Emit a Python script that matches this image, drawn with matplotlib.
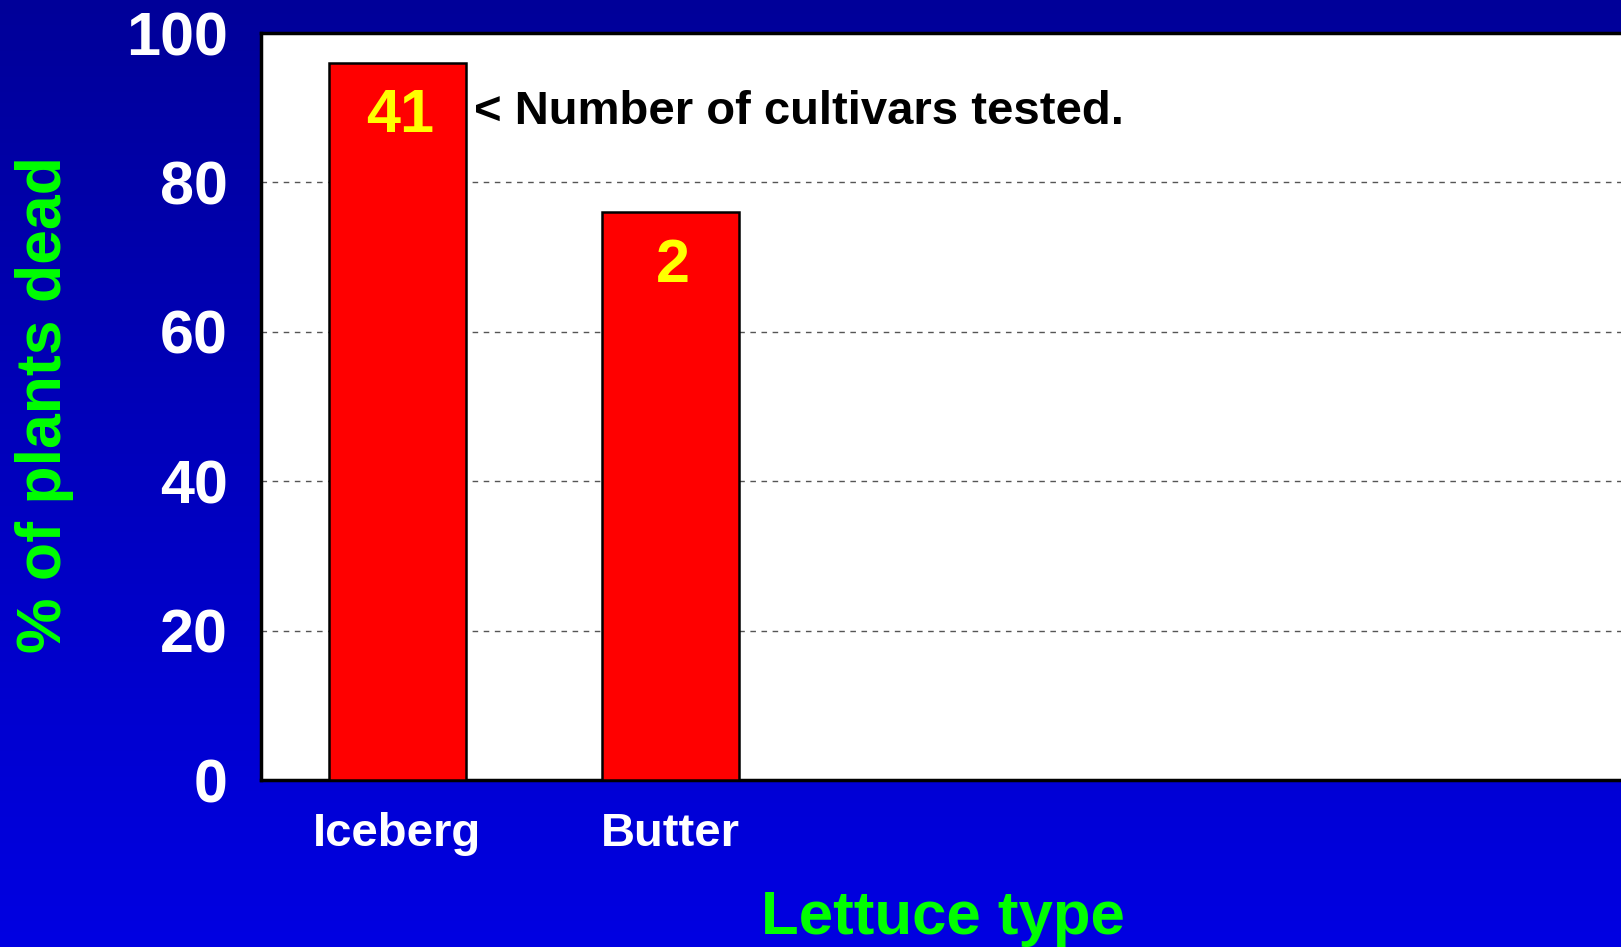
import numpy as np
import matplotlib
matplotlib.use('Agg')
import matplotlib.pyplot as plt

plt.rcParams['font.family'] = ['Liberation Sans', 'DejaVu Sans']
plt.rcParams['font.weight'] = 'bold'

# data
categories = ['Iceberg', 'Butter', '', '', '']
pct_dead = [96, 76, 0, 0, 0]
n_cultivars = ['41', '2', '', '', '']
yticks = [0, 20, 40, 60, 80, 100]

W, H = 1621, 947
fig = plt.figure(figsize=(W / 100, H / 100), dpi=100)

# blue gradient background
bg = fig.add_axes([0, 0, 1, 1], zorder=-10)
grad = np.linspace(0, 1, 256).reshape(-1, 1)
top = np.array([0, 0, 153]) / 255
bot = np.array([0, 0, 226]) / 255
img = top + (bot - top) * grad[:, :, None]
bg.imshow(img, aspect='auto', extent=[0, 1, 0, 1], origin='upper')
bg.axis('off')

left, right = 261 / W, 1626 / W
bottom, topy = 1 - 780 / H, 1 - 33 / H
ax = fig.add_axes([left, bottom, right - left, topy - bottom])
ax.set_facecolor('white')

x = np.arange(len(categories))
ax.bar(x, pct_dead, width=0.5, color='#ff0000', edgecolor='black',
       linewidth=1.8, zorder=3)
for xi, v, n in zip(x, pct_dead, n_cultivars):
    if n:
        ax.text(xi + 0.01, v - 7.2, n, ha='center', va='center', color='#ffff00',
                fontsize=44, fontweight='bold', zorder=4)

ax.text(0.28, 89.4, '< Number of cultivars tested.', ha='left', va='center',
        color='black', fontsize=34, fontweight='bold', zorder=4)

ax.set_xlim(-0.5, 4.5)
ax.set_ylim(0, 100)
ax.set_yticks(yticks)
ax.set_xticks(x)
ax.set_xticklabels(categories)
ax.tick_params(axis='y', length=0, pad=24, labelsize=44, labelcolor='white')
ax.tick_params(axis='x', length=0, pad=23, labelsize=34, labelcolor='white')
for lab in ax.get_xticklabels() + ax.get_yticklabels():
    lab.set_fontweight('bold')

ax.grid(axis='y', color='#555555', linestyle=(0, (4, 4)), linewidth=1, zorder=0)
ax.set_axisbelow(True)
for side in ['left', 'top', 'bottom']:
    ax.spines[side].set_linewidth(2.5)
    ax.spines[side].set_color('black')
ax.spines['right'].set_visible(False)

fig.text(943 / W, 1 - 918 / H, 'Lettuce type', ha='center', va='center',
         color='#00ff00', fontsize=44.5, fontweight='bold')
fig.text(45 / W, 1 - 405 / H, '% of plants dead', ha='center', va='center',
         rotation=90, color='#00ff00', fontsize=45, fontweight='bold')

fig.savefig('out.png', dpi=100)
